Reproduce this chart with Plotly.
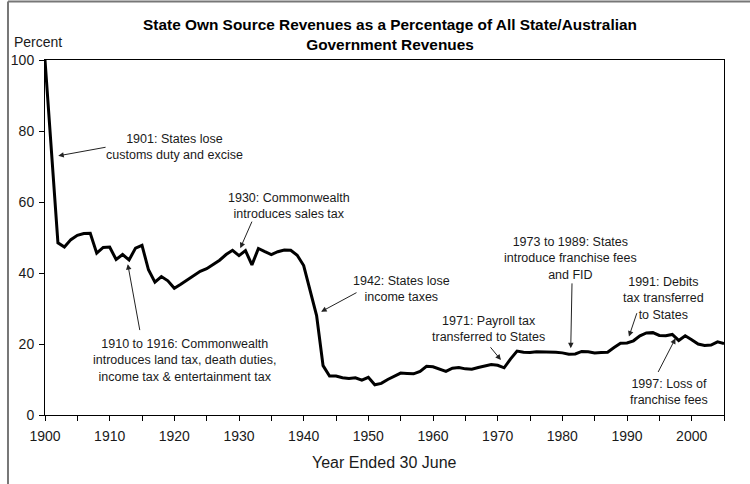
import plotly.graph_objects as go

years = list(range(1900, 2006))
share = [
    100, 74, 48.5, 47.3, 49.4, 50.6, 51.1, 51.2, 45.6, 47.2,
    47.3, 43.8, 45.2, 43.7, 47.0, 47.8, 40.9, 37.4, 39.0, 37.8,
    35.7, 36.8, 38.0, 39.3, 40.5, 41.2, 42.3, 43.6, 45.2, 46.4,
    44.9, 46.3, 42.3, 46.9, 46.0, 45.2, 46.0, 46.5, 46.4, 45.0,
    42.1, 35.2, 28.0, 13.9, 11.0, 11.0, 10.5, 10.3, 10.5, 9.8,
    10.6, 8.5, 8.9, 10.0, 11.0, 11.8, 11.7, 11.6, 12.3, 13.7,
    13.6, 12.9, 12.3, 13.2, 13.4, 13.0, 12.9, 13.4, 13.8, 14.2,
    14.0, 13.3, 15.8, 18.0, 17.7, 17.6, 17.8, 17.8, 17.9, 17.7,
    17.5, 17.1, 17.2, 17.9, 17.8, 17.5, 17.6, 17.7, 19.0, 20.2,
    20.3, 20.9, 22.3, 23.1, 23.2, 22.4, 22.3, 22.7, 21.0, 22.3,
    21.2, 20.0, 19.6, 19.7, 20.6, 20.1,
]

x_ticks = [1900, 1910, 1920, 1930, 1940, 1950, 1960, 1970, 1980, 1990, 2000]
y_ticks = [0, 20, 40, 60, 80, 100]

note_texts = [
    "1901: States lose<br>customs duty and excise",
    "1930: Commonwealth<br>introduces sales tax",
    "1910 to 1916: Commonwealth<br>introduces land tax, death duties,<br>income tax &amp; entertainment tax",
    "1942: States lose<br>income taxes",
    "1971: Payroll tax<br>transferred to States",
    "1973 to 1989: States<br>introduce franchise fees<br>and FID",
    "1991: Debits<br>tax transferred<br>to States",
    "1997: Loss of<br>franchise fees",
]
note_x = [1920.1, 1937.8, 1921.6, 1955.1, 1968.6, 1981.2, 1995.6, 1996.5]
note_y = [75.6, 58.9, 15.4, 35.5, 24.2, 44.2, 32.7, 6.5]
arrow_tail_x = [1909.6, 1932.1, 1914.7, 1948.4, 1968.7, 1981.5, 1991.6, 1994.7]
arrow_tail_y = [75.5, 54.9, 23.5, 34.7, 19.5, 37.5, 29.1, 11.7]
arrow_head_x = [1902.05, 1930.2, 1912.8, 1942.7, 1970.5, 1981.3, 1990.3, 1997.5]
arrow_head_y = [73.0, 47.0, 42.5, 29.1, 15.5, 18.8, 22.1, 21.6]

FONT = "Liberation Sans, Arial, sans-serif"
TXT = "#1a1a1a"

fig = go.Figure()
fig.add_trace(go.Scatter(x=years, y=share, mode="lines",
                         line=dict(color="black", width=3), showlegend=False,
                         hoverinfo="x+y"))

annotations = []
for t, x, y in zip(note_texts, note_x, note_y):
    annotations.append(dict(x=x, y=y, xref="x", yref="y", text=t, showarrow=False,
                            font=dict(family=FONT, size=12.5, color=TXT), align="center",
                            xanchor="center", yanchor="middle"))
for tx, ty, hx, hy in zip(arrow_tail_x, arrow_tail_y, arrow_head_x, arrow_head_y):
    annotations.append(dict(x=hx, y=hy, xref="x", yref="y", ax=tx, ay=ty,
                            axref="x", ayref="y", text="", showarrow=True,
                            arrowhead=2, arrowsize=1.1, arrowwidth=1,
                            arrowcolor="#222", standoff=0))
annotations.append(dict(x=-0.0486, y=1.051, xref="paper", yref="paper", text="Percent",
                        showarrow=False, xanchor="left", yanchor="middle",
                        font=dict(family=FONT, size=14, color=TXT)))
annotations.append(dict(x=0.5, y=-0.135, xref="paper", yref="paper", text="Year Ended 30 June",
                        showarrow=False, xanchor="center", yanchor="middle",
                        font=dict(family=FONT, size=16, color=TXT)))

fig.update_layout(
    width=750, height=484,
    margin=dict(l=45, r=25.5, t=60, b=69),
    paper_bgcolor="white", plot_bgcolor="white",
    title=dict(text="<b>State Own Source Revenues as a Percentage of All State/Australian<br>Government Revenues</b>",
               x=0.52, xanchor="center", y=1 - 30 / 484, yanchor="middle",
               font=dict(family=FONT, size=15.4, color="black")),
    annotations=annotations,
    shapes=[
        dict(type="line", xref="paper", yref="paper", x0=-0.0545, x1=1.04, y0=1.1648, y1=1.1648,
             line=dict(color="#777", width=2)),
        dict(type="line", xref="paper", yref="paper", x0=-0.0545, x1=-0.0545, y0=1.1648, y1=-0.2,
             line=dict(color="#777", width=2)),
    ],
    xaxis=dict(range=[1900, 2005], tickvals=x_ticks, ticks="outside", ticklen=5,
               tickcolor="black", showline=True, linecolor="black", linewidth=1,
               mirror=True, showgrid=False, zeroline=False, ticklabelstandoff=3,
               tickfont=dict(family=FONT, size=14, color=TXT),
               minor=dict(dtick=5, tick0=1900, ticks="outside", ticklen=5, tickcolor="black")),
    yaxis=dict(range=[0, 100], tickvals=y_ticks, ticks="outside", ticklen=5,
               tickcolor="black", showline=True, linecolor="black", linewidth=1,
               mirror=True, showgrid=False, zeroline=False, ticklabelstandoff=2,
               tickfont=dict(family=FONT, size=14, color=TXT)),
)

fig.write_html("out.html", config={"displayModeBar": False},
               post_script="document.body.style.margin='0';")
